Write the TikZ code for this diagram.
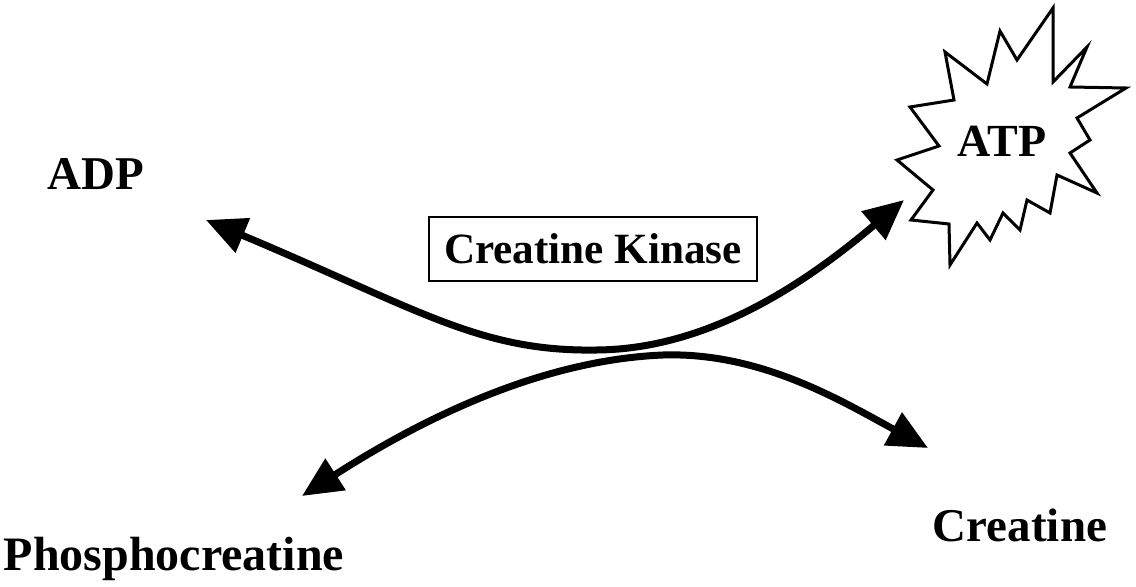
\documentclass[tikz,border=0pt]{standalone}
\usepackage{fontspec}
\setmainfont{Liberation Serif}
\usetikzlibrary{arrows.meta}

\begin{document}
\begin{tikzpicture}[x=0.5pt, y=-0.5pt,
    species/.style={font=\fontsize{23.5}{28}\selectfont\bfseries, inner sep=0pt, anchor=base},
    enzyme/.style={draw, line width=0.8pt, font=\fontsize{21.6}{26}\selectfont\bfseries, minimum width=164pt, minimum height=32pt, inner sep=0pt},
    flow/.style={{Triangle[length=20pt,width=18pt]}-{Triangle[length=20pt,width=18pt]}, line width=3.5pt},
    burst/.style={draw, line width=1.5pt, line join=miter}
]
\useasboundingbox (0,0) rectangle (1136,587);

% starburst round ATP
\draw[burst] (1053,8) -- (1053,82) -- (1087,47) -- (1070,87) -- (1126,88)
    -- (1077,118) -- (1090,140) -- (1070,153) -- (1097,193) -- (1057,175)
    -- (1050,213) -- (1027,200) -- (1020,230) -- (1003,213) -- (990,240)
    -- (977,223) -- (950,265) -- (949,224) -- (911,220) -- (933,190)
    -- (897,160) -- (939,146) -- (910,107) -- (954,100) -- (945,52)
    -- (987,84) -- (1000,31) -- (1017,60) -- cycle;

\node[species] (adp) at (96,190) {ADP};
\node[species, font=\fontsize{23}{28}\selectfont\bfseries] (atp) at (1002,157) {ATP};
\node[species, font=\fontsize{24}{28}\selectfont\bfseries] (pcr) at (174,571) {Phosphocreatine};
\node[species] (cr) at (1020,542) {Creatine};
\node[enzyme] (ck) at (593,249) {Creatine Kinase};

\coordinate (adpTip) at (206,220);
\coordinate (atpTip) at (904,200);
\coordinate (pcrTip) at (302,496);
\coordinate (crTip) at (928,448);
\coordinate (lowMid) at (597,350);
\coordinate (highMid) at (663,355);

\draw[flow] (adpTip) .. controls (420,310) and (480,352) .. (lowMid)
    .. controls (715,349) and (815,275) .. (atpTip);
\draw[flow] (pcrTip) .. controls (420,420) and (540,360) .. (highMid)
    .. controls (760,352) and (840,400) .. (crTip);

\end{tikzpicture}
\end{document}
